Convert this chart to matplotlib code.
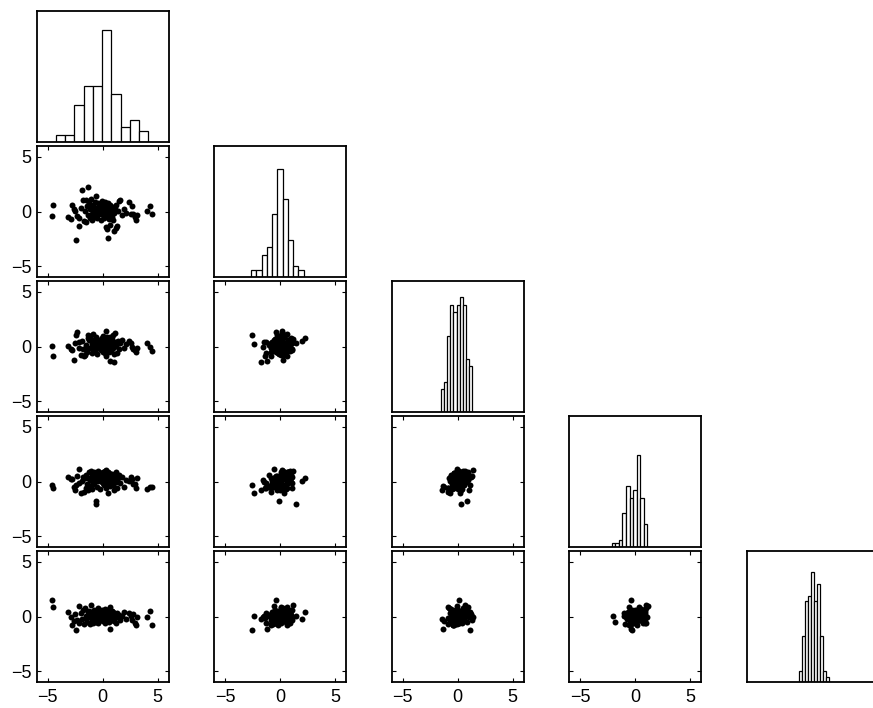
import matplotlib
matplotlib.use('Agg')
import matplotlib.pyplot as plt
import numpy as np

v1 = [-4.62, -4.48, -3.15, -2.90, -2.75, -2.62, -2.55, -2.42, -2.35, -2.20,
      -2.12, -1.98, -1.88, -1.78, -1.70, -1.62, -1.55, -1.50, -1.42, -1.38,
      -1.30, -1.25, -1.20, -1.12, -1.05, -1.00, -0.97, -0.94, -0.92, -0.85,
      -0.80, -0.75, -0.70, -0.65, -0.60, -0.55, -0.50, -0.45, -0.40, -0.33,
      -0.27, -0.20, -0.15, -0.10, -0.04, 0.00, 0.03, 0.06, 0.10, 0.12,
      0.15, 0.18, 0.20, 0.22, 0.25, 0.28, 0.30, 0.32, 0.35, 0.38,
      0.40, 0.42, 0.45, 0.48, 0.50, 0.53, 0.55, 0.58, 0.60, 0.63,
      0.66, 0.70, 0.73, 0.76, 0.80, 0.85, 0.90, 0.95, 1.00, 1.05,
      1.10, 1.18, 1.25, 1.32, 1.40, 1.50, 1.58, 1.75, 1.95, 2.15,
      2.35, 2.55, 2.70, 2.75, 2.90, 3.00, 3.10, 4.05, 4.30, 4.50]
v2 = [-0.40, 0.58, -0.50, -0.68, 0.62, 0.25, 0.02, -2.55, -0.40, -0.55,
      -1.30, 0.35, 2.00, 1.08, -0.85, 0.10, 1.10, -0.98, 0.50, 2.25,
      -0.30, 0.75, -0.62, 0.20, 1.15, -0.20, 0.45, -0.75, 0.05, 0.65,
      -0.45, 0.10, 0.90, -0.10, 1.45, 0.35, -0.60, 0.25, 0.80, -0.25,
      0.55, -0.80, 0.15, 0.95, 0.40, -0.35, 0.70, 0.15, -0.15, 0.55,
      -0.55, 0.30, 0.85, -0.05, 0.45, -1.40, 0.20, -0.40, 0.65, 0.05,
      -1.60, 0.35, -0.25, -2.40, 0.75, -0.10, 0.50, -0.65, 0.25, -1.20,
      0.10, 0.60, -0.30, 0.30, -0.50, 0.15, -0.80, 0.40, -0.15, -1.75,
      0.20, -1.45, 0.65, -1.30, 0.05, 0.95, 1.10, -0.35, 0.25, -0.10,
      0.90, -0.25, 0.50, -0.20, -0.50, -0.80, -0.30, 0.10, 0.55, -0.20]
v3 = [0.08, -0.85, 0.08, -0.22, -0.35, -1.22, 0.30, 1.10, 1.30, -0.10,
      0.38, -0.72, 0.55, -0.20, -0.90, -0.78, -0.30, 0.15, -0.50, 0.80,
      1.05, 0.60, -0.10, 0.95, 0.70, -0.55, 0.25, 0.40, -0.25, 1.20,
      0.00, 0.55, -0.40, 0.85, 0.30, -0.65, 0.15, 0.45, -0.15, 0.65,
      0.05, 0.35, -0.30, 0.80, 0.20, -0.45, 0.50, 0.95, -0.05, 0.30,
      0.60, -0.20, 0.10, 0.75, -0.60, -0.90, 1.40, 0.40, -0.35, 0.55,
      0.00, 0.85, -0.15, 0.25, 0.65, -0.50, 0.15, 0.45, -0.25, -1.30,
      0.90, 0.05, 0.35, -0.40, 0.70, 0.20, -0.10, 1.10, -0.70, -1.40,
      1.25, 0.45, 0.10, -0.55, 0.55, -0.25, 0.30, 0.60, -0.15, 0.20,
      0.55, 0.35, 0.00, -0.25, -0.30, -0.45, -0.10, 0.35, -0.05, -0.40]
v4 = [-0.35, -0.58, 0.40, 0.25, 0.20, -0.45, -0.75, -0.30, 0.55, 1.15,
      -0.15, -1.05, 0.10, 0.45, -0.95, 0.30, -0.55, 0.65, -0.20, 0.35,
      -0.80, 0.85, -0.40, 0.15, 0.95, -0.65, 0.55, 0.05, 0.70, 0.40,
      -0.25, 0.85, 0.25, -1.80, -2.02, 0.60, -0.45, 0.95, 0.10, 0.50,
      -0.70, 0.30, 0.75, 0.00, 0.60, 0.35, -0.15, 0.90, 0.20, 0.65,
      -0.35, 0.45, 1.00, 0.05, 0.55, -0.55, 1.05, 0.25, 0.75, -0.25,
      0.15, 0.70, 0.40, -1.05, 0.90, 0.10, 0.50, -0.10, 0.80, -0.40,
      0.30, 0.60, -0.20, 0.45, 0.20, 0.70, -0.30, 0.40, 0.05, -0.75,
      0.55, -0.05, 0.85, -0.60, 0.30, 0.60, -0.15, 0.40, -0.45, 0.15,
      0.05, 0.45, 0.20, -0.20, -0.25, -0.55, 0.35, -0.65, -0.50, -0.45]
v5 = [1.55, 0.90, 0.45, -0.05, -0.75, -0.40, 0.20, -1.25, -0.30, 1.00,
      -0.55, 0.30, -0.20, 0.60, -0.65, 0.75, -0.15, 0.10, -0.45, 0.40,
      -0.05, 0.55, -0.70, 0.25, 1.10, 0.00, -0.35, 0.45, -0.60, 0.15,
      0.65, -0.25, 0.35, -0.45, 0.05, 0.55, -0.10, 0.80, -0.55, 0.20,
      0.40, -0.30, 0.10, 0.60, -0.05, 0.30, -0.40, 0.15, 0.50, -0.20,
      0.05, 0.35, -0.60, 0.25, 0.70, -0.15, 0.00, 0.45, -0.35, 0.20,
      -0.05, 0.60, -0.25, 0.10, 0.35, -0.50, 0.15, 0.40, -0.10, -1.10,
      0.85, 0.00, 0.30, -0.30, 0.55, -0.15, 0.20, 0.45, -0.40, -0.20,
      0.25, 0.10, -0.55, 0.35, -0.05, 0.15, -0.30, 0.05, 0.40, -0.20,
      0.30, 0.10, -0.35, 0.20, -0.60, -0.80, 0.00, -0.05, 0.50, -0.80]

# histogram bars on the diagonal (10 bins each): counts and bin range
hist_counts = [[2, 2, 10, 15, 15, 30, 13, 4, 6, 3],
               [2, 2, 6, 8, 17, 29, 21, 10, 3, 2],
               [3, 4, 10, 14, 13, 14, 15, 14, 7, 6],
               [1, 1, 2, 9, 16, 13, 15, 24, 13, 6],
               [2, 8, 14, 15, 19, 14, 17, 8, 2, 1]]
hist_lo = [-4.27, -2.64, -1.55, -2.12, -1.23]
hist_hi = [4.15, 2.12, 1.34, 1.09, 1.50]
hist_ytop = [35.0, 35.0, 17.1, 34.3, 22.7]

tick_vals = [-5, 0, 5]
tick_labels = ['\u22125', '0', '5']

data = [v1, v2, v3, v4, v5]
n = len(data)

plt.rcParams['font.family'] = ['Liberation Sans', 'DejaVu Sans']

W, H = 873, 708
fig = plt.figure(figsize=(W / 100, H / 100), dpi=100)
fig.patch.set_facecolor('white')

left0, dxp, pw = 36.7, 177.5, 132.0
top0, dyp, ph = 11.0, 135.0, 131.3
lim = (-6.0, 6.0)

for i in range(n):
    for j in range(i + 1):
        x0 = (left0 + dxp * j) / W
        y0 = 1 - (top0 + dyp * i + ph) / H
        ax = fig.add_axes([x0, y0, pw / W, ph / H])
        for s in ax.spines.values():
            s.set_linewidth(1.3)
            s.set_color('black')
        if i == j:
            counts = hist_counts[i]
            edges = np.linspace(hist_lo[i], hist_hi[i], len(counts) + 1)
            centers = (edges[:-1] + edges[1:]) / 2
            width = edges[1] - edges[0]
            ax.bar(centers, counts, width=width, align='center',
                   facecolor='white', edgecolor='black', linewidth=0.9)
            ax.set_xlim(*lim)
            ax.set_ylim(0, hist_ytop[i])
            ax.set_xticks([])
            ax.set_yticks([])
        else:
            ax.plot(data[j], data[i], 'o', ms=4.3, color='black', mew=0)
            ax.set_xlim(*lim)
            ax.set_ylim(*lim)
            ax.set_xticks(tick_vals)
            ax.set_yticks(tick_vals)
            ax.tick_params(direction='in', length=3, width=0.8,
                           top=True, right=True, labelsize=13)
            ax.tick_params(axis='y', pad=4)
            ax.tick_params(axis='x', pad=5)
            if j == 0:
                ax.set_yticklabels(tick_labels)
            else:
                ax.set_yticklabels([])
            if i == n - 1:
                ax.set_xticklabels(tick_labels)
            else:
                ax.set_xticklabels([])

fig.savefig('out.png', dpi=100, facecolor='white')
